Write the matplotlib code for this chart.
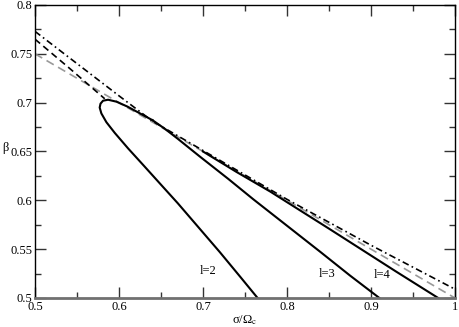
import matplotlib
matplotlib.use("Agg")
import matplotlib.pyplot as plt

# ---- data ----
l2_sigma = [0.765, 0.745, 0.72, 0.696, 0.67, 0.65, 0.629, 0.611, 0.595, 0.585,
            0.579, 0.577, 0.578, 0.581, 0.587, 0.597, 0.61, 0.625, 0.64]
l2_beta = [0.5, 0.521, 0.547, 0.571, 0.597, 0.616, 0.636, 0.653, 0.669, 0.680,
           0.689, 0.695, 0.699, 0.702, 0.703, 0.701, 0.696, 0.689, 0.682]

l3_sigma = [0.64, 0.655, 0.67, 0.696, 0.73, 0.76, 0.80, 0.84, 0.875, 0.91]
l3_beta = [0.682, 0.673, 0.663, 0.645, 0.622, 0.601, 0.574, 0.547, 0.523, 0.5]

l4_sigma = [0.70, 0.74, 0.78, 0.815, 0.85, 0.89, 0.93, 0.98]
l4_beta = [0.650, 0.629, 0.609, 0.590, 0.571, 0.549, 0.527, 0.5]

dashdot_sigma = [0.5, 0.55, 0.60, 0.64, 0.70, 0.80, 0.90, 1.0]
dashdot_beta = [0.773, 0.740, 0.707, 0.681, 0.651, 0.601, 0.554, 0.509]

dashed_sigma = [0.5, 0.54, 0.583]
dashed_beta = [0.765, 0.736, 0.704]

env_sigma = [0.5, 1.0]
env_beta = [0.75, 0.5]

labels = ["l=2", "l=3", "l=4"]
label_sigma = [0.706, 0.848, 0.913]
label_beta = [0.528, 0.525, 0.524]

xticks = [0.5, 0.6, 0.7, 0.8, 0.9, 1.0]
xticklabels = ["0.5", "0.6", "0.7", "0.8", "0.9", "1"]
yticks = [0.5, 0.55, 0.6, 0.65, 0.7, 0.75, 0.8]
yticklabels = ["0.5", "0.55", "0.6", "0.65", "0.7", "0.75", "0.8"]

# ---- figure ----
plt.rcParams['font.family'] = ['Liberation Serif', 'DejaVu Serif']
plt.rcParams['mathtext.fontset'] = 'stix'

fig = plt.figure(figsize=(4.59, 3.27), dpi=100)
ax = fig.add_axes([35/459, 1-298/327, 420/459, 293/327])

ax.plot(env_sigma, env_beta, color='#999999', lw=1.2, dashes=(5, 3))
ax.plot(dashed_sigma, dashed_beta, color='black', lw=1.2, dashes=(4, 2.5))
ax.plot(dashdot_sigma, dashdot_beta, color='black', lw=1.2, dashes=(4, 2, 1, 2))
ax.plot(l2_sigma, l2_beta, color='black', lw=1.5)
ax.plot(l3_sigma, l3_beta, color='black', lw=1.5)
ax.plot(l4_sigma, l4_beta, color='black', lw=1.5)

for t, sx, sy in zip(labels, label_sigma, label_beta):
    ax.text(sx, sy, t, ha='center', va='center', fontsize=9)

ax.set_xlim(0.5, 1.0)
ax.set_ylim(0.5, 0.8)
ax.set_xticks(xticks)
ax.set_xticklabels(xticklabels)
ax.set_yticks(yticks)
ax.set_yticklabels(yticklabels)
ax.set_xticks([0.55, 0.65, 0.75, 0.85, 0.95], minor=True)
ax.set_yticks([0.525, 0.575, 0.625, 0.675, 0.725, 0.775], minor=True)
ax.tick_params(which='both', direction='in', top=True, right=True, labelsize=9, pad=2,
               color='#333333')
ax.tick_params(which='major', length=8, width=1)
ax.tick_params(which='minor', length=4, width=1)
for s in ax.spines.values():
    s.set_linewidth(1.0)
ax.spines['bottom'].set_color('#707070')
ax.spines['bottom'].set_linewidth(2.0)

ax.set_xlabel(r'σ/Ω$_\mathrm{c}$', fontsize=9, labelpad=0)
fig.text(5/459, 1-148/327, 'β', fontsize=9, ha='center', va='center')

fig.savefig('out.png', dpi=100)
